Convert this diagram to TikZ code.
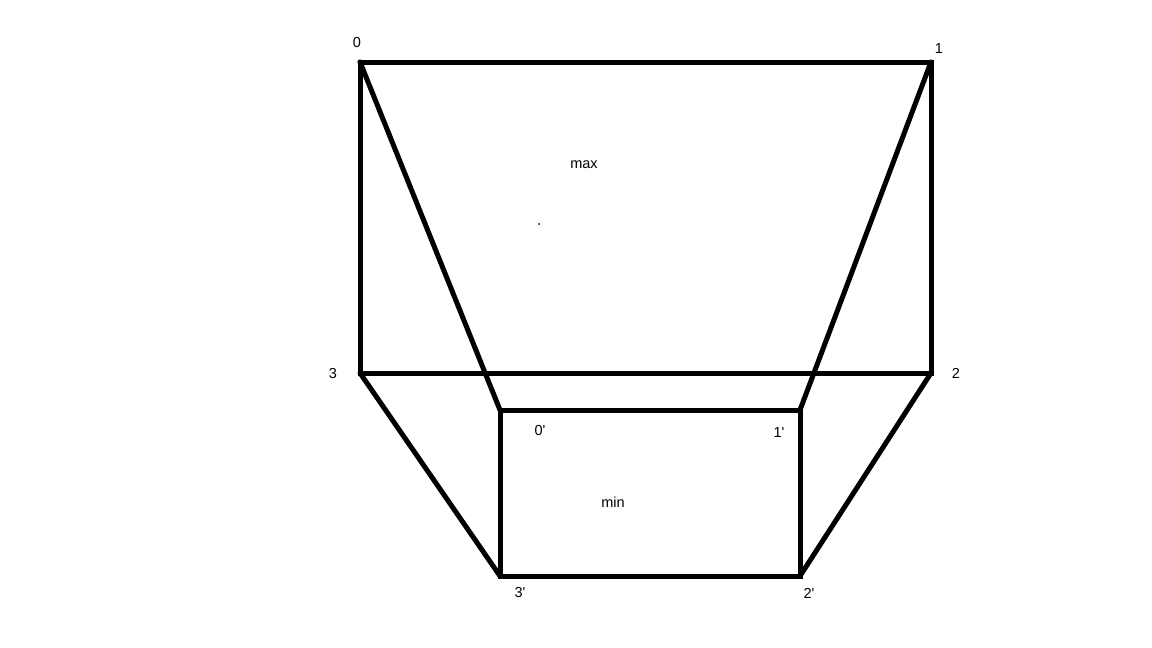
\documentclass[tikz,border=0pt]{standalone}
\usepackage{fontspec}
\setmainfont{Liberation Sans}
\usepackage{tikz}
\usetikzlibrary{positioning}

\tikzset{
  edge/.style={line width=5pt, line cap=round, line join=miter},
  lbl/.style={font=\fontsize{14.5}{16}\selectfont, inner sep=0pt}
}

\begin{document}
\begin{tikzpicture}[x=1pt, y=-1pt]
  \useasboundingbox (0,0) rectangle (1152,648);
  % outer (max) corners
  \coordinate (c0) at (360,62);
  \coordinate (c1) at (931,62);
  \coordinate (c2) at (931,373);
  \coordinate (c3) at (360,373);
  % inner (min) corners
  \coordinate (d0) at (500,410);
  \coordinate (d1) at (800,410);
  \coordinate (d2) at (800,576);
  \coordinate (d3) at (500,576);

  \draw[edge] (c0) -- (c1) -- (c2) -- (c3) -- cycle;
  \draw[edge] (d0) -- (d1) -- (d2) -- (d3) -- cycle;
  \draw[edge] (c0) -- (d0);
  \draw[edge] (c1) -- (d1);
  \draw[edge] (c2) -- (d2);
  \draw[edge] (c3) -- (d3);

  \node[lbl] (l0) at (357,43) {0};
  \node[lbl] (l1) at (939,49) {1};
  \node[lbl] (l2) at (956,373) {2};
  \node[lbl] (l3) at (333,374) {3};
  \node[lbl] (m0) at (540,431) {0\textquotesingle};
  \node[lbl] (m1) at (779,433) {1\textquotesingle};
  \node[lbl] (m2) at (809,593) {2\textquotesingle};
  \node[lbl] (m3) at (520,593) {3\textquotesingle};
  \node[lbl] (tmax) at (584,165) {max};
  \node[lbl] (tmin) at (613,502) {min};
  \fill (539,224) circle (1);
\end{tikzpicture}
\end{document}
